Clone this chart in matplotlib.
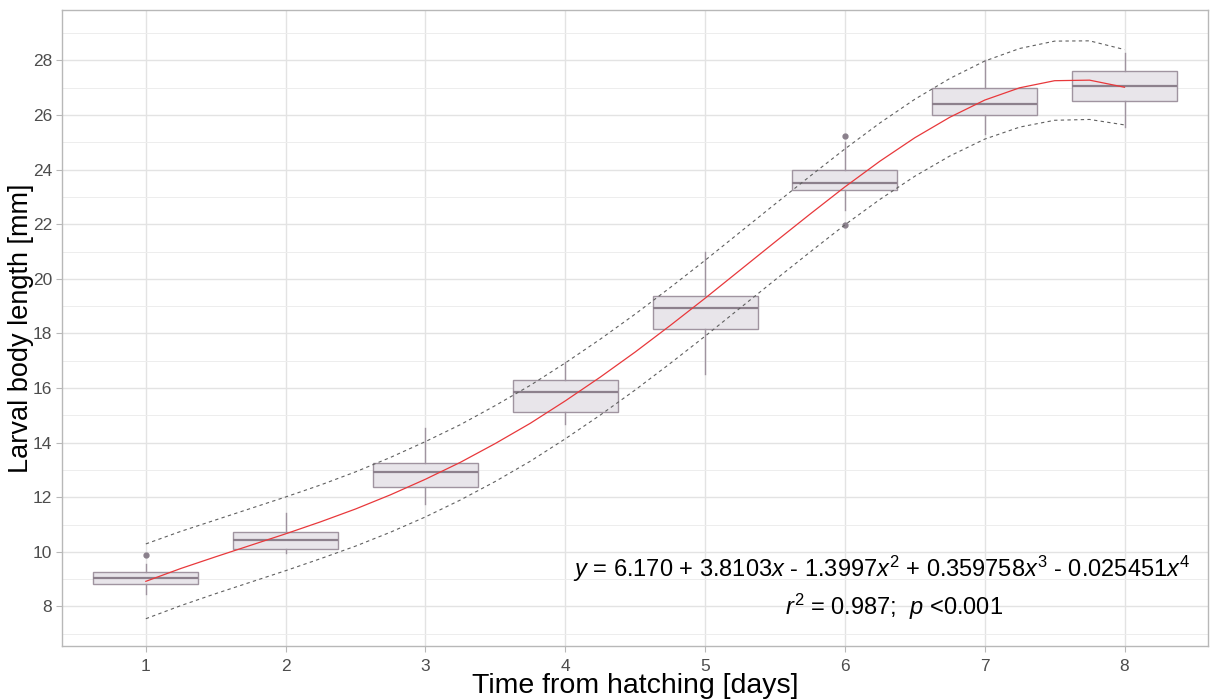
import matplotlib
matplotlib.use("Agg")
import matplotlib.pyplot as plt
from matplotlib.ticker import MultipleLocator

plt.rcParams['font.family'] = ['Liberation Sans', 'DejaVu Sans']
plt.rcParams['mathtext.fontset'] = 'custom'
plt.rcParams['mathtext.rm'] = 'Liberation Sans'
plt.rcParams['mathtext.it'] = 'Liberation Sans:italic'

# box statistics per day
days = [1, 2, 3, 4, 5, 6, 7, 8]
whislo = [8.44, 9.94, 11.77, 14.67, 16.53, 22.54, 25.29, 25.55]
q1 = [8.81, 10.12, 12.36, 15.14, 18.18, 23.27, 26.02, 26.53]
med = [9.03, 10.42, 12.91, 15.84, 18.95, 23.53, 26.39, 27.05]
q3 = [9.25, 10.71, 13.27, 16.31, 19.36, 24.00, 27.01, 27.63]
whishi = [9.57, 11.41, 14.52, 16.97, 21.00, 25.00, 28.03, 28.26]
outliers = [[9.90], [], [], [], [], [25.25, 21.99], [], []]

# fitted curve and prediction band
fit_x = [1.00, 1.25, 1.50, 1.75, 2.00, 2.25, 2.50, 2.75, 3.00, 3.25, 3.50, 3.75,
         4.00, 4.25, 4.50, 4.75, 5.00, 5.25, 5.50, 5.75, 6.00, 6.25, 6.50, 6.75,
         7.00, 7.25, 7.50, 7.75, 8.00]
fit_y = [8.92, 9.39, 9.82, 10.24, 10.66, 11.10, 11.57, 12.09, 12.66, 13.28, 13.97, 14.71,
         15.53, 16.40, 17.32, 18.29, 19.29, 20.32, 21.35, 22.37, 23.37, 24.31, 25.17, 25.92,
         26.55, 27.00, 27.26, 27.28, 27.02]
upper = [10.29, 10.75, 11.17, 11.59, 12.01, 12.45, 12.93, 13.46, 14.04, 14.66, 15.36, 16.10,
         16.92, 17.79, 18.71, 19.68, 20.68, 21.71, 22.74, 23.76, 24.76, 25.71, 26.58, 27.34,
         27.98, 28.44, 28.71, 28.72, 28.40]
lower = [7.55, 8.03, 8.47, 8.89, 9.31, 9.75, 10.21, 10.72, 11.28, 11.90, 12.58, 13.32,
         14.14, 15.01, 15.93, 16.90, 17.90, 18.93, 19.96, 20.98, 21.98, 22.91, 23.76, 24.50,
         25.12, 25.56, 25.81, 25.84, 25.64]

fig = plt.figure(figsize=(12.10, 6.99), dpi=100)
ax = fig.add_axes([0.0512, 0.0758, 0.9475, 0.9099])

stats = []
for i in range(len(days)):
    stats.append(dict(whislo=whislo[i], q1=q1[i], med=med[i], q3=q3[i],
                      whishi=whishi[i], fliers=outliers[i]))

edge = '#A094A0'
ax.bxp(stats, positions=days, widths=0.75, patch_artist=True, showcaps=False,
       boxprops=dict(facecolor='#E8E5EA', edgecolor=edge, linewidth=1.0),
       medianprops=dict(color='#8C808C', linewidth=1.6),
       whiskerprops=dict(color=edge, linewidth=1.0),
       flierprops=dict(marker='o', markersize=3.5, markerfacecolor='#8A808C',
                       markeredgecolor='#8A808C'),
       zorder=3)

ax.plot(fit_x, fit_y, color='#E8383B', linewidth=0.9, zorder=4)
ax.plot(fit_x, upper, color='#606060', linewidth=0.8, linestyle=(0, (3, 3)), zorder=4)
ax.plot(fit_x, lower, color='#606060', linewidth=0.8, linestyle=(0, (3, 3)), zorder=4)

ax.set_xlim(0.4, 8.6)
ax.set_ylim(6.55, 29.85)
ax.set_xticks(days)
ax.set_xticklabels([str(d) for d in days])
ax.yaxis.set_major_locator(MultipleLocator(2))
ax.yaxis.set_minor_locator(MultipleLocator(1))

ax.grid(True, which='major', color='#E3E3E3', linewidth=1.0, zorder=0)
ax.grid(True, which='minor', axis='y', color='#EDEDED', linewidth=0.7, zorder=0)
ax.set_axisbelow(True)
for s in ax.spines.values():
    s.set_color('#B8B8B8')
    s.set_linewidth(1.0)
ax.tick_params(which='major', length=4, color='#B8B8B8', labelcolor='#4D4D4D',
               labelsize=12.5, pad=3)
ax.tick_params(axis='x', pad=5)
ax.tick_params(which='minor', length=0)

ax.set_xlabel('Time from hatching [days]', fontsize=20.5)
ax.set_ylabel('Larval body length [mm]', fontsize=19.5)
ax.xaxis.set_label_coords(0.5, -0.042)
ax.yaxis.set_label_coords(-0.0245, 0.5)

ax.text(6.26, 9.36,
        r'$\it{y}$ = 6.170 + 3.8103$\it{x}$ - 1.3997$\it{x}^{2}$ + 0.359758$\it{x}^{3}$ - 0.025451$\it{x}^{4}$',
        fontsize=17, ha='center', va='center', zorder=5)
ax.text(6.35, 8.0, r'$\it{r}^{2}$ = 0.987;  $\it{p}$ <0.001',
        fontsize=17, ha='center', va='center', zorder=5)

fig.savefig('out.png', dpi=100)
